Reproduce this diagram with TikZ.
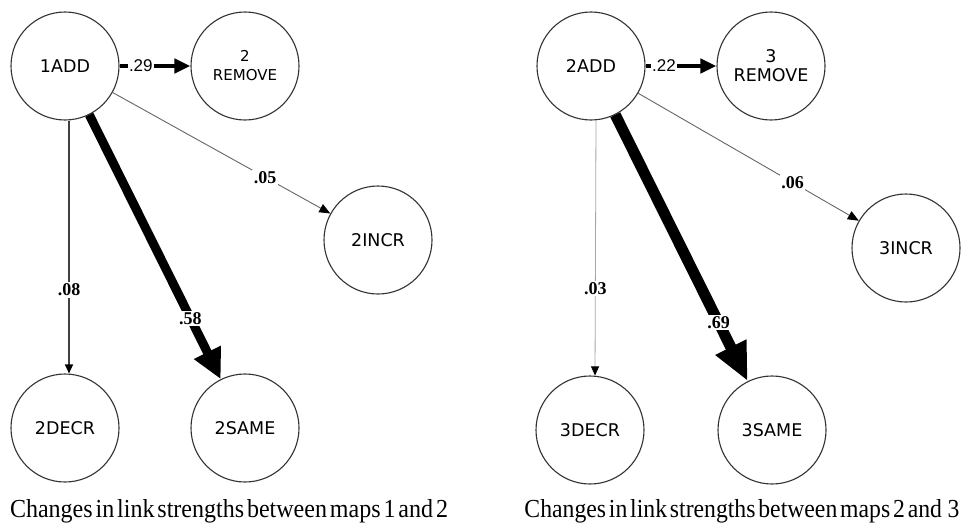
\documentclass[tikz,border=0pt]{standalone}
\usepackage{fontspec}
\usepackage{graphicx}
\setmainfont{Liberation Serif}
\newfontfamily\nodefont{DejaVu Sans}
\newfontfamily\tagsans{Liberation Sans}
\usetikzlibrary{arrows.meta}

% tight-spaced, wide caption line
\newcommand{\captionline}[2]{\resizebox{#1}{18pt}{\spaceskip=.12em\relax #2}}

\begin{document}
\begin{tikzpicture}[x=1pt,y=-1pt,
  state/.style={circle,draw=black!80,line width=1.1pt,minimum size=108pt,
    inner sep=0pt,align=center,font=\nodefont\fontsize{17.5}{19}\selectfont},
  wlab/.style={fill=white,inner sep=1.5pt,font=\bfseries\fontsize{18}{18}\selectfont},
  slab/.style={fill=white,inner sep=1.5pt,font=\tagsans\fontsize{17}{17}\selectfont},
  faint/.style={draw=black!35,line width=0.8pt,-{Triangle[length=9pt,width=8pt,color=black]}},
  thin/.style={draw=black!60,line width=0.9pt,-{Triangle[length=11pt,width=9pt,color=black]}},
  mid/.style={draw=black!75,line width=1.2pt,-{Triangle[length=9pt,width=8pt,color=black]}},
  bold/.style={draw=black,line width=4.5pt,-{Triangle[length=16pt,width=14pt]}},
  heavy/.style={draw=black,line width=9pt,-{Triangle[length=30pt,width=28pt]}},
  heavier/.style={draw=black,line width=11pt,-{Triangle[length=38pt,width=32pt]}},
  caption/.style={anchor=base,inner sep=0pt}]

\useasboundingbox[fill=white] (0,0) rectangle (965,522);

% maps 1 -> 2
\node[state] (a1) at (65,66) {1ADD};
\node[state,font=\nodefont\fontsize{15}{19}\selectfont] (r2) at (245,66) {2\\REMOVE};
\node[state] (i2) at (378,240) {2INCR};
\node[state] (d2) at (65,428) {2DECR};
\node[state] (s2) at (245,428) {2SAME};

\draw[bold] (a1) -- node[slab,pos=0.3] {.29} (r2);
\draw[thin] (a1) -- node[wlab,pos=0.7] {.05} (i2);
\draw[mid] ([xshift=4pt]a1.south) -- node[wlab,pos=0.67] {.08} ([xshift=4pt]d2.north);
\draw[heavy] (a1) -- node[wlab,pos=0.77] {.58} (s2);

% maps 2 -> 3
\node[state] (a2) at (591,66) {2ADD};
\node[state] (r3) at (771,66) {3\\REMOVE};
\node[state] (i3) at (906,248) {3INCR};
\node[state] (d3) at (590,430) {3DECR};
\node[state] (s3) at (772,430) {3SAME};

\draw[bold] (a2) -- node[slab,pos=0.26] {.22} (r3);
\draw[thin] (a2) -- node[wlab,pos=0.7] {.06} (i3);
\draw[faint] ([xshift=5pt]a2.south) -- node[wlab,pos=0.66] {.03} ([xshift=5pt]d3.north);
\draw[heavier] (a2) -- node[wlab,pos=0.78] {.69} (s3);

% captions
\node[caption] (c1) at (229,517) {\captionline{438pt}{Changes in link strengths between maps 1 and 2}};
\node[caption] (c2) at (742,517) {\captionline{435pt}{Changes in link strengths between maps 2 and~~3}};
\end{tikzpicture}
\end{document}
